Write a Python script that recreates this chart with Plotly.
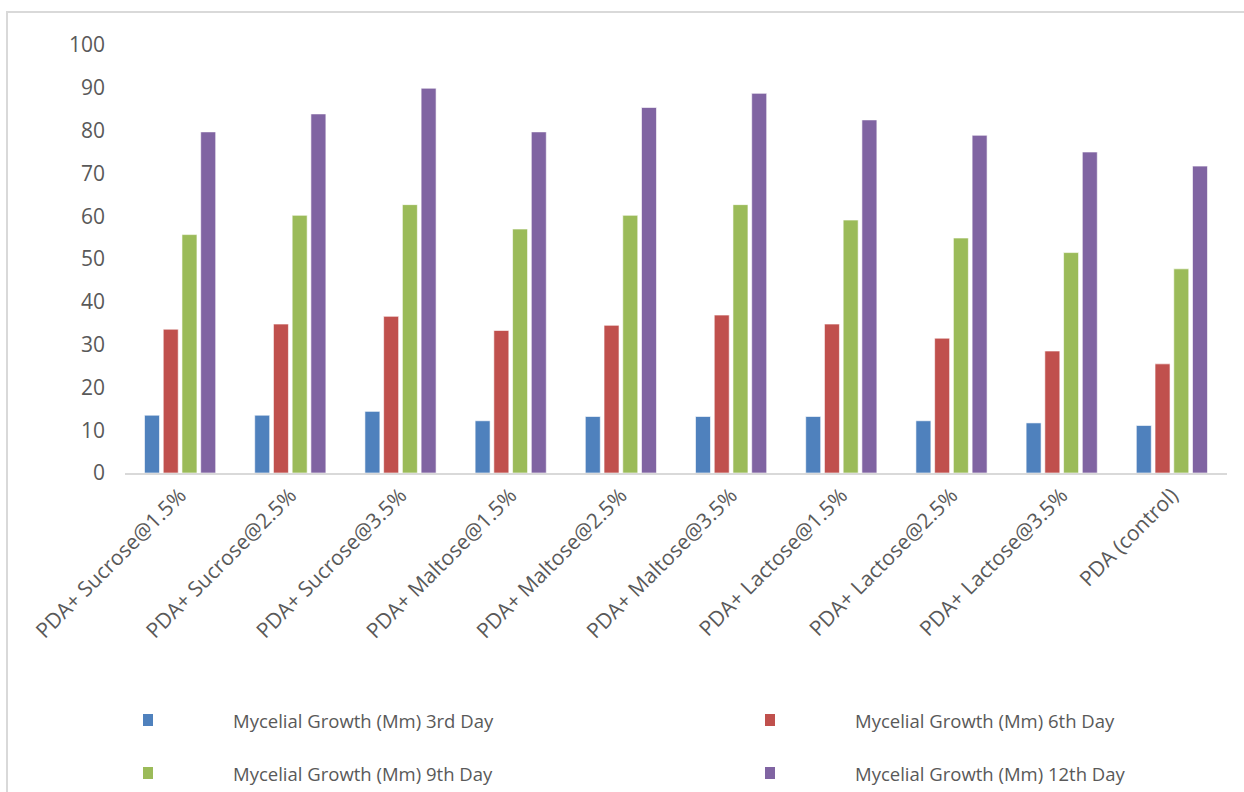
import plotly.graph_objects as go

categories = ["PDA+ Sucrose@1.5%", "PDA+ Sucrose@2.5%", "PDA+ Sucrose@3.5%",
              "PDA+ Maltose@1.5%", "PDA+ Maltose@2.5%", "PDA+ Maltose@3.5%",
              "PDA+ Lactose@1.5%", "PDA+ Lactose@2.5%", "PDA+ Lactose@3.5%",
              "PDA (control)"]
series_names = ["Mycelial Growth (Mm) 3rd Day", "Mycelial Growth (Mm) 6th Day",
                "Mycelial Growth (Mm) 9th Day", "Mycelial Growth (Mm) 12th Day"]
day3 = [13.5, 13.5, 14.4, 12.2, 13.2, 13.2, 13.2, 12.2, 11.7, 11.1]
day6 = [33.6, 34.8, 36.6, 33.3, 34.5, 36.9, 34.8, 31.5, 28.5, 25.5]
day9 = [55.7, 60.2, 62.7, 57.0, 60.2, 62.7, 59.1, 54.9, 51.5, 47.7]
day12 = [79.7, 83.9, 89.9, 79.7, 85.4, 88.7, 82.5, 78.9, 75.0, 71.7]
y_ticks = [0, 10, 20, 30, 40, 50, 60, 70, 80, 90, 100]

colors = ["#4F81BD", "#C0504D", "#9BBB59", "#8064A2"]
values = [day3, day6, day9, day12]

fig = go.Figure()
for name, vals, col in zip(series_names, values, colors):
    fig.add_trace(go.Bar(x=categories, y=vals, name=name,
                         marker=dict(color=col, line=dict(color="rgba(255,255,255,0.6)", width=1)),
                         showlegend=False))

W, H = 1244, 792
L, R, T, B = 125, 17, 45, 319
pw, ph = W - L - R, H - T - B

def px_to_paper_x(px):
    return (px - L) / pw

def px_to_paper_y(py):
    return (H - B - py) / ph

shapes = []
annotations = []
# chart border (light gray, cropped at right/bottom)
shapes.append(dict(type="rect", xref="paper", yref="paper",
                   x0=px_to_paper_x(7), x1=px_to_paper_x(1300),
                   y0=px_to_paper_y(900), y1=px_to_paper_y(12),
                   line=dict(color="#D9D9D9", width=2), fillcolor="rgba(0,0,0,0)", layer="below"))

# manual legend
leg_pos = [(148, 720), (770, 720), (148, 773), (770, 773)]
for (mx, my), name, col in zip(leg_pos, series_names, colors):
    shapes.append(dict(type="rect", xref="paper", yref="paper",
                       x0=px_to_paper_x(mx - 5), x1=px_to_paper_x(mx + 5),
                       y0=px_to_paper_y(my + 6), y1=px_to_paper_y(my - 6),
                       line=dict(width=0), fillcolor=col))
    annotations.append(dict(xref="paper", yref="paper", x=px_to_paper_x(mx + 83), y=px_to_paper_y(my),
                            text=name, showarrow=False, xanchor="left", yanchor="middle",
                            font=dict(family="Open Sans", size=18.5, color="#595959")))

fig.update_layout(
    width=W, height=H,
    margin=dict(l=L, r=R, t=T, b=B),
    paper_bgcolor="white", plot_bgcolor="white",
    barmode="group", bargap=0.32, bargroupgap=0.2,
    font=dict(family="Open Sans", color="#595959"),
    xaxis=dict(showgrid=False, showline=True, linecolor="#D9D9D9", linewidth=1.5,
               tickangle=-45, tickfont=dict(size=21, color="#595959"), ticks=""),
    yaxis=dict(range=[0, 100], tickvals=y_ticks, showgrid=False, zeroline=False,
               showline=False, tickfont=dict(size=21, color="#595959"), ticklabelstandoff=19),
    shapes=shapes, annotations=annotations,
)

fig.write_html("out.html")
